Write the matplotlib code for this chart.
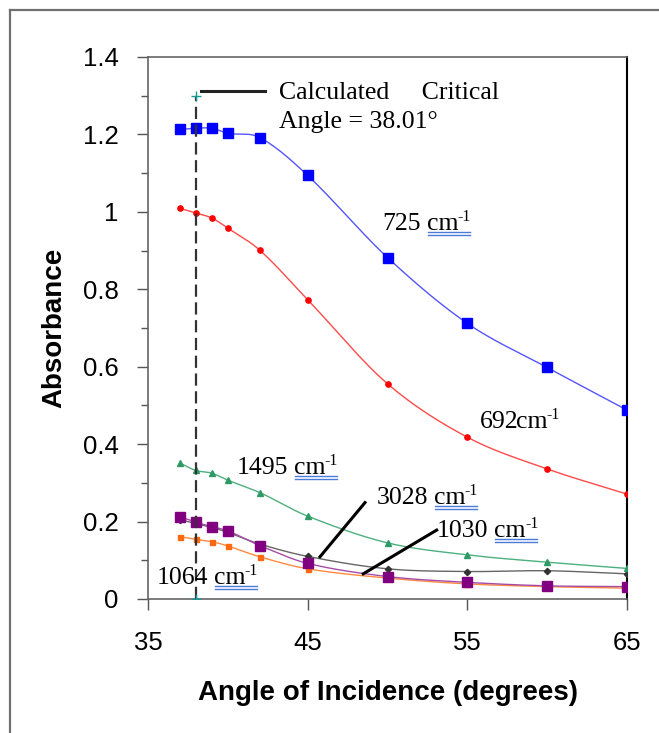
import numpy as np
import matplotlib.pyplot as plt
from matplotlib.lines import Line2D

# angle of incidence (degrees)
angles = [37, 38, 39, 40, 42, 45, 50, 55, 60, 65]

# absorbance for each band
abs_725 = [1.213, 1.216, 1.216, 1.203, 1.192, 1.094, 0.882, 0.712, 0.598, 0.488]
abs_692 = [1.009, 0.997, 0.984, 0.958, 0.901, 0.773, 0.556, 0.418, 0.336, 0.271]
abs_1495 = [0.351, 0.332, 0.325, 0.307, 0.275, 0.214, 0.145, 0.114, 0.095, 0.079]
abs_3028 = [0.205, 0.195, 0.185, 0.172, 0.142, 0.110, 0.078, 0.071, 0.073, 0.065]
abs_1030 = [0.213, 0.198, 0.187, 0.176, 0.138, 0.092, 0.058, 0.043, 0.034, 0.032]
abs_1064 = [0.161, 0.154, 0.148, 0.137, 0.109, 0.078, 0.054, 0.039, 0.032, 0.028]

critical_angle = 38.01


def smooth(x, y, n=25):
    # cubic Hermite through the points, tangents from neighbours (smoothed line)
    x = np.asarray(x, float)
    y = np.asarray(y, float)
    m = np.empty_like(y)
    m[1:-1] = (y[2:] - y[:-2]) / (x[2:] - x[:-2])
    m[0] = (y[1] - y[0]) / (x[1] - x[0])
    m[-1] = (y[-1] - y[-2]) / (x[-1] - x[-2])
    xs, ys = [], []
    t = np.linspace(0, 1, n, endpoint=False)
    for i in range(len(x) - 1):
        h = x[i + 1] - x[i]
        h00 = 2 * t**3 - 3 * t**2 + 1
        h10 = t**3 - 2 * t**2 + t
        h01 = -2 * t**3 + 3 * t**2
        h11 = t**3 - t**2
        xs.append(x[i] + t * h)
        ys.append(h00 * y[i] + h10 * h * m[i] + h01 * y[i + 1] + h11 * h * m[i + 1])
    xs.append([x[-1]])
    ys.append([y[-1]])
    return np.concatenate(xs), np.concatenate(ys)


fig = plt.figure(figsize=(6.59, 7.33), dpi=100)
ax = fig.add_axes([148 / 659, 1 - 599 / 733, (627 - 148) / 659, (599 - 57) / 733])

series = [
    (abs_1064, '#FF6A10', '#FF8A40', 's', 3.6),
    (abs_3028, '#333333', '#666666', 'D', 3.2),
    (abs_1030, '#800080', '#A64CA6', 's', 7.5),
    (abs_1495, '#2E9A66', '#4DB07F', '^', 5.0),
    (abs_692, '#FF0000', '#FF4A4A', 'o', 3.8),
    (abs_725, '#0000FF', '#5555FF', 's', 7.5),
]
for vals, mc, lc, mk, ms in series:
    sx, sy = smooth(angles, vals)
    ax.plot(sx, sy, color=lc, lw=1.0, zorder=2)
    ax.plot(angles, vals, ls='none', marker=mk, ms=ms, color=mc, mec=mc, zorder=3)

# critical angle line
ax.plot([critical_angle, critical_angle], [0, 1.3], color='#333333', lw=1.6,
        dashes=(5.5, 2.5), zorder=4)
ax.plot([critical_angle, critical_angle], [0, 1.3], ls='none', marker='+',
        ms=7, mew=1, color='#1A9A9A', zorder=5)
ax.plot([38.3, 42.3], [1.313, 1.313], color='#222222', lw=2.2, zorder=4)

serif = 'Liberation Serif'
tfs = 18.5
ax.text(43.2, 1.307, 'Calculated     Critical', family=serif, fontsize=tfs, va='center')
ax.text(43.2, 1.231, 'Angle = 38.01\u00b0', family=serif, fontsize=tfs, va='center')

# band labels: position, number, space before unit, underlined unit
labels = [
    (49.7, 0.969, '725', True, True),
    (55.8, 0.458, '692', False, False),
    (40.55, 0.338, '1495', True, True),
    (49.3, 0.262, '3028', True, True),
    (53.1, 0.176, '1030', True, True),
    (35.55, 0.053, '1064', True, True),
]

# leader lines
ax.plot([45.77, 48.59], [0.109, 0.249], color='black', lw=2.2, zorder=4)
ax.plot([48.48, 53.08], [0.065, 0.178], color='black', lw=2.2, zorder=4)

ax.set_xlim(35, 65)
ax.set_ylim(0, 1.4)
ax.set_xticks([35, 45, 55, 65])
ax.set_yticks(np.arange(0, 1.41, 0.2))
ax.set_yticks(np.arange(0.1, 1.4, 0.2), minor=True)
ax.set_yticklabels(['0', '0.2', '0.4', '0.6', '0.8', '1', '1.2', '1.4'])
ax.tick_params(axis='both', which='major', direction='out', length=8, width=1,
               color='#555555', labelsize=18.5)
ax.tick_params(axis='y', which='minor', direction='out', length=5, width=1, color='#555555')
ax.tick_params(axis='y', pad=13)
ax.tick_params(axis='x', pad=15)
for lab in ax.get_xticklabels() + ax.get_yticklabels():
    lab.set_family('Liberation Sans')

for side in ['left', 'top', 'bottom']:
    ax.spines[side].set_color('#666666')
    ax.spines[side].set_linewidth(1.2)
ax.spines['right'].set_color('black')
ax.spines['right'].set_linewidth(1.5)

ax.set_xlabel('Angle of Incidence (degrees)', family='Liberation Sans',
              fontweight='bold', fontsize=20, labelpad=18)
ax.set_ylabel('Absorbance', family='Liberation Sans', fontweight='bold',
              fontsize=20, labelpad=11)

# place "cm" and the raised "-1" after each number, then the double underline
fig.canvas.draw()
r = fig.canvas.get_renderer()
space_px = 0.25 * tfs * 100 / 72
for x, y, num, sp, ul in labels:
    x0_px, y_px = ax.transData.transform((x, y))
    base = y_px - 6
    t1 = fig.text(x0_px / 659, base / 733, num, family=serif, fontsize=tfs, va='baseline')
    bb = t1.get_window_extent(r)
    cx = bb.x1 + (space_px - 0.5 if sp else -2.5)
    t2 = fig.text(cx / 659, base / 733, 'cm', family=serif, fontsize=tfs, va='baseline')
    b2 = t2.get_window_extent(r)
    t3 = fig.text((b2.x1 - 1) / 659, (base + 9) / 733, '-1', family=serif,
                  fontsize=11.5, va='baseline')
    b3 = t3.get_window_extent(r)
    if ul:
        for dy in (2, 5):
            yy = base - dy
            fig.add_artist(Line2D([(b2.x0 + 1) / 659, (b3.x1 - 1) / 659], [yy / 733, yy / 733],
                                  transform=fig.transFigure, color='#4A7BD8', lw=1.0))

# outer frame of the figure
fig.add_artist(Line2D([10 / 659, 10 / 659], [0, 1 - 10 / 733], transform=fig.transFigure,
                      color='#707070', lw=1.6))
fig.add_artist(Line2D([10 / 659, 1], [1 - 10 / 733, 1 - 10 / 733], transform=fig.transFigure,
                      color='#707070', lw=1.6))

fig.savefig('out.png', dpi=100)
